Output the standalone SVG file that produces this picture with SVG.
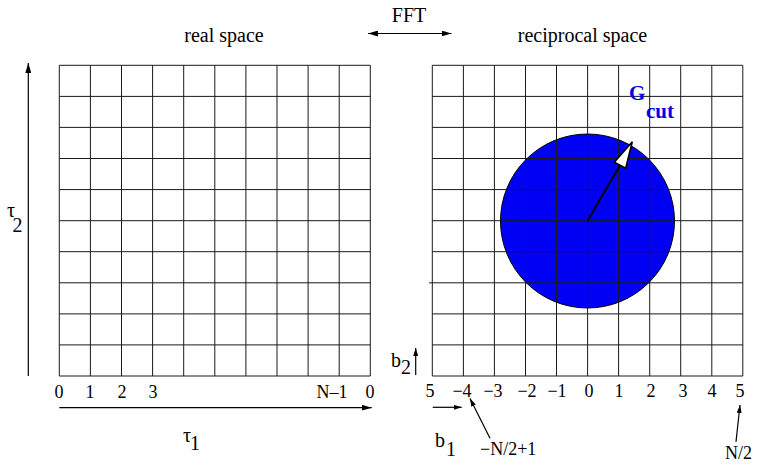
<svg xmlns="http://www.w3.org/2000/svg" width="763" height="464" viewBox="0 0 763 464">
<defs>
<style>
.t{font-family:"Liberation Serif","Times New Roman",serif;fill:#000}
.f20{font-size:20px}
.f18{font-size:18px}
.m{text-anchor:middle}
.g{stroke:#1a1a1a;stroke-width:1;fill:none}
.ax{stroke:#000;stroke-width:1.2;fill:none}
.blue{font-family:"Liberation Serif","Times New Roman",serif;font-weight:bold;fill:#0000e6;font-size:21px}
</style>
<marker id="ah" viewBox="0 0 10 6" refX="10" refY="3" markerWidth="10" markerHeight="6" markerUnits="userSpaceOnUse" orient="auto-start-reverse">
<path d="M0,0 L10,3 L0,6 z" fill="#000"/>
</marker>
<marker id="ahs" viewBox="0 0 8 5" refX="8" refY="2.5" markerWidth="8" markerHeight="5" markerUnits="userSpaceOnUse" orient="auto">
<path d="M0,0 L8,2.5 L0,5 z" fill="#000"/>
</marker>
</defs>
<rect width="763" height="464" fill="#fff"/>

<g id="titles">
<text class="t f20 m" x="409" y="21.5">FFT</text>
<text class="t f20 m" x="224" y="42">real space</text>
<text class="t f20 m" x="582.5" y="42">reciprocal space</text>
</g>

<g id="real-grid">
<path class="g" d="M59.3,65.3V376M90.4,65.3V376M121.5,65.3V376M152.6,65.3V376M183.7,65.3V376M214.8,65.3V376M245.9,65.3V376M277,65.3V376M308.1,65.3V376M339.2,65.3V376M370.3,65.3V376
M59.3,65.3H370.3M59.3,96.4H370.3M59.3,127.4H370.3M59.3,158.5H370.3M59.3,189.6H370.3M59.3,220.7H370.3M59.3,251.7H370.3M59.3,282.8H370.3M59.3,313.9H370.3M59.3,344.9H370.3M59.3,376H370.3"/>
</g>

<g id="reciprocal-grid">
<circle id="gcut-sphere" cx="587.5" cy="221" r="87" fill="#0000f5" stroke="#000" stroke-width="1"/>
<path class="g" d="M432.3,65.3V376M463.4,65.3V376M494.4,65.3V376M525.5,65.3V376M556.5,65.3V376M587.6,65.3V376M618.6,65.3V376M649.7,65.3V376M680.7,65.3V376M711.8,65.3V376M742.8,65.3V376
M432.3,65.3H742.8M432.3,96.4H742.8M432.3,127.4H742.8M432.3,158.5H742.8M432.3,189.6H742.8M432.3,220.7H742.8M432.3,251.7H742.8M429,282.8H742.8M432.3,313.9H742.8M432.3,344.9H742.8M432.3,376H742.8"/>
</g>

<g id="gcut-label">
<text class="blue" x="629" y="100">G</text>
<text class="blue" x="646" y="118">cut</text>
</g>

<g id="connectors">
<line class="ax" x1="368" y1="33.5" x2="451.5" y2="33.5" marker-start="url(#ah)" marker-end="url(#ah)"/>
<line class="ax" x1="28.3" y1="376" x2="28.3" y2="63" marker-end="url(#ah)"/>
<line class="ax" x1="59.3" y1="407.7" x2="371.7" y2="407.7" marker-end="url(#ah)"/>
<line class="ax" x1="415.7" y1="375" x2="415.7" y2="348" marker-end="url(#ahs)"/>
<line class="ax" x1="432.7" y1="407.3" x2="461.7" y2="407.3" marker-end="url(#ahs)"/>
<line class="ax" x1="490" y1="438.3" x2="470" y2="398.5" stroke-width="1" marker-end="url(#ahs)"/>
<line class="ax" x1="736" y1="441.7" x2="740" y2="405" stroke-width="1" marker-end="url(#ahs)"/>
<line x1="587.5" y1="221" x2="620" y2="165.3" stroke="#000" stroke-width="2"/>
<polygon points="632.3,141.7 614.3,162.3 625.7,168.3" fill="#fff" stroke="#000" stroke-width="1.6"/>
</g>

<g id="axis-labels">
<text class="t f20" x="7" y="217">τ</text>
<text class="t f20" x="12.5" y="232">2</text>
<text class="t f20" x="183" y="442">τ</text>
<text class="t f20" x="190" y="450">1</text>
<text class="t f20" x="391" y="367">b</text>
<text class="t f20" x="401" y="374">2</text>
<text class="t f20" x="435" y="447">b</text>
<text class="t f20" x="446" y="456">1</text>
</g>

<g id="real-ticks">
<text class="t f18 m" x="59" y="398">0</text>
<text class="t f18 m" x="90" y="398">1</text>
<text class="t f18 m" x="122" y="398">2</text>
<text class="t f18 m" x="153" y="398">3</text>
<text class="t f18 m" x="332" y="398">N–1</text>
<text class="t f18 m" x="370" y="398">0</text>
</g>

<g id="reciprocal-ticks">
<text class="t f18 m" x="430" y="397">5</text>
<text class="t f18 m" x="462" y="397">−4</text>
<text class="t f18 m" x="493" y="397">−3</text>
<text class="t f18 m" x="527" y="397">−2</text>
<text class="t f18 m" x="557" y="397">−1</text>
<text class="t f18 m" x="589" y="397">0</text>
<text class="t f18 m" x="619" y="397">1</text>
<text class="t f18 m" x="651" y="397">2</text>
<text class="t f18 m" x="683" y="397">3</text>
<text class="t f18 m" x="712" y="397">4</text>
<text class="t f18 m" x="740" y="397">5</text>
<text class="t f18" x="480" y="455">−N/2+1</text>
<text class="t f18" x="725" y="459">N/2</text>
</g>
</svg>
